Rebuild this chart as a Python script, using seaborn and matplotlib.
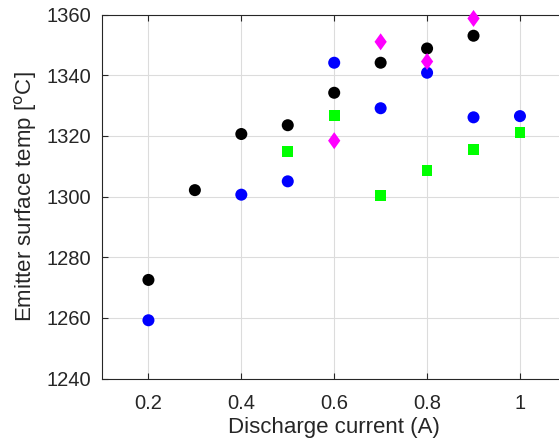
import numpy as np
import pandas as pd
import matplotlib
matplotlib.use("Agg")
import matplotlib.pyplot as plt
import seaborn as sns

x_black = [0.2, 0.3, 0.4, 0.5, 0.6, 0.7, 0.8, 0.9]
y_black = [1272.5, 1302.1, 1320.6, 1323.5, 1334.2, 1344.1, 1348.8, 1353.0]
x_blue = [0.2, 0.4, 0.5, 0.6, 0.7, 0.8, 0.9, 1.0]
y_blue = [1259.2, 1300.6, 1305.0, 1344.1, 1329.1, 1340.8, 1326.1, 1326.5]
x_green = [0.5, 0.6, 0.7, 0.8, 0.9, 1.0]
y_green = [1314.8, 1326.8, 1300.4, 1308.5, 1315.6, 1321.2]
x_magenta = [0.6, 0.7, 0.8, 0.9]
y_magenta = [1318.4, 1351.0, 1344.5, 1358.7]

xticks = [0.2, 0.4, 0.6, 0.8, 1.0]
xticklabels = ["0.2", "0.4", "0.6", "0.8", "1"]
yticks = [1240, 1260, 1280, 1300, 1320, 1340, 1360]

df = pd.concat([
    pd.DataFrame({"x": x_black, "y": y_black, "s": "black"}),
    pd.DataFrame({"x": x_blue, "y": y_blue, "s": "blue"}),
    pd.DataFrame({"x": x_green, "y": y_green, "s": "green"}),
    pd.DataFrame({"x": x_magenta, "y": y_magenta, "s": "magenta"}),
], ignore_index=True)

sns.set_theme(style="white")
plt.rcParams['font.family'] = ['Arial', 'Liberation Sans', 'DejaVu Sans']

fig = plt.figure(figsize=(5.59, 4.48), dpi=100)
ax = fig.add_axes([102/559, 1 - 378.5/448, (566.4 - 102)/559, (378.5 - 14.5)/448])

diamond = [(0, 1), (0.72, 0), (0, -1), (-0.72, 0), (0, 1)]
palette = {"black": "#000000", "blue": "#0000ff", "green": "#00ff00", "magenta": "#ff00ff"}
markers = {"black": "o", "blue": "o", "green": "s", "magenta": diamond}
sizes = {"black": 75, "blue": 75, "green": 60, "magenta": 150}

for key in ["black", "blue", "green", "magenta"]:
    sub = df[df["s"] == key]
    sns.scatterplot(data=sub, x="x", y="y", color=palette[key], marker=markers[key],
                    s=sizes[key], edgecolor="none", linewidth=0, ax=ax, legend=False,
                    zorder=3, clip_on=False)

ax.set_xlim(0.1, 1.1)
ax.set_ylim(1240, 1360)
ax.set_xticks(xticks)
ax.set_xticklabels(xticklabels)
ax.set_yticks(yticks)
ax.grid(True, color="#dcdcdc", linewidth=0.8)
ax.set_axisbelow(True)
for sp in ax.spines.values():
    sp.set_color("#262626")
    sp.set_linewidth(0.8)
ax.tick_params(axis="both", direction="in", length=4, width=0.8, color="#262626",
               labelsize=14.5, labelcolor="#262626")
ax.tick_params(axis="x", pad=11, top=True, bottom=True)
ax.tick_params(axis="y", left=True, right=True, pad=8)
ax.set_xlabel("Discharge current (A)", fontsize=16, color="#262626", labelpad=3)
ax.set_ylabel("Emitter surface temp [$^{\\mathrm{o}}$C]", fontsize=16, color="#262626", labelpad=5)

fig.savefig("out.png", dpi=100)
